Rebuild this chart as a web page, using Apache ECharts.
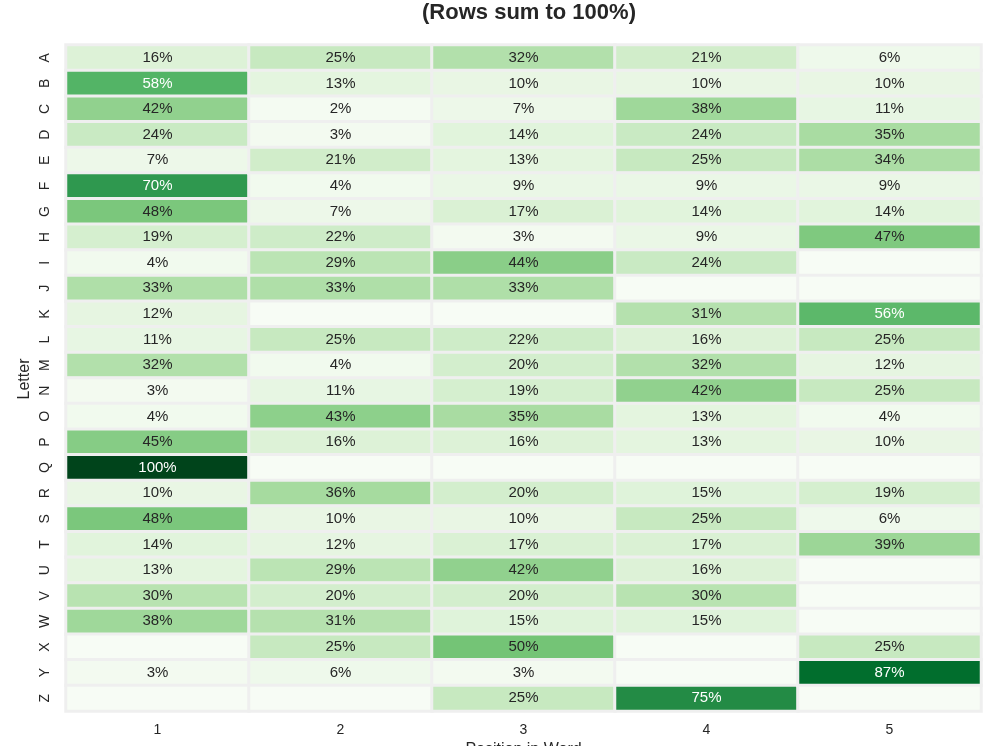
<!DOCTYPE html>
<html>
<head>
<meta charset="utf-8">
<script src="https://cdn.jsdelivr.net/npm/echarts@6/dist/echarts.min.js"></script>
<style>html,body{margin:0;padding:0;background:#fff;}#c{width:1000px;height:746px;}</style>
</head>
<body>
<div id="c"></div>
<script>
var letters = ['A','B','C','D','E','F','G','H','I','J','K','L','M','N','O','P','Q','R','S','T','U','V','W','X','Y','Z'];
var positions = ['1','2','3','4','5'];
var pos1 = [16,58,42,24,7,70,48,19,4,33,12,11,32,3,4,45,100,10,48,14,13,30,38,0,3,0];
var pos2 = [25,13,2,3,21,4,7,22,29,33,0,25,4,11,43,16,0,36,10,12,29,20,31,25,6,0];
var pos3 = [32,10,7,14,13,9,17,3,44,33,0,22,20,19,35,16,0,20,10,17,42,20,15,50,3,25];
var pos4 = [21,10,38,24,25,9,14,9,24,0,31,16,32,42,13,13,0,15,25,17,16,30,15,0,0,75];
var pos5 = [6,10,11,35,34,9,14,47,0,0,56,25,12,25,4,10,0,19,6,39,0,0,0,25,87,0];
var cols = [pos1,pos2,pos3,pos4,pos5];

var data = [];
for (var c = 0; c < cols.length; c++) {
  for (var r = 0; r < letters.length; r++) {
    var v = cols[c][r];
    data.push({
      value: [c, r, v],
      label: { color: v > 52 ? '#ffffff' : '#262626' }
    });
  }
}

var FONT = 'Liberation Sans, Arial, sans-serif';
var chart = echarts.init(document.getElementById('c'));
chart.setOption({
  backgroundColor: '#ffffff',
  animation: false,
  title: {
    text: '(Rows sum to 100%)',
    left: 524, textAlign: 'center', top: -3,
    textStyle: { fontFamily: FONT, fontSize: 22, fontWeight: 'bold', color: '#262626' }
  },
  graphic: [{
    type: 'text', x: 25, y: 379, rotation: Math.PI / 2,
    style: { text: 'Letter', fontFamily: FONT, fontSize: 16, fill: '#262626', align: 'center', verticalAlign: 'middle' }
  }],
  grid: { left: 66, right: 19, top: 45, bottom: 35, outerBoundsMode: 'none', containLabel: false },
  xAxis: {
    type: 'category', data: positions,
    name: 'Position in Word', nameLocation: 'middle', nameGap: 31,
    nameTextStyle: { fontFamily: FONT, fontSize: 16, color: '#262626' },
    axisLine: { show: false }, axisTick: { show: false }, splitLine: { show: false },
    axisLabel: { fontFamily: FONT, fontSize: 14, color: '#262626', margin: 12 }
  },
  yAxis: {
    type: 'category', data: letters, inverse: true,
    axisLine: { show: false }, axisTick: { show: false }, splitLine: { show: false },
    axisLabel: { fontFamily: FONT, fontSize: 14, color: '#262626', margin: 14, rotate: 90 }
  },
  visualMap: {
    show: false, type: 'continuous', min: 0, max: 100, dimension: 2,
    inRange: { color: ['#f7fcf5','#e5f5e0','#c7e9c0','#a1d99b','#74c476','#41ab5d','#238b45','#006d2c','#00441b'] }
  },
  series: [{
    type: 'heatmap',
    data: data,
    itemStyle: { borderColor: '#efefef', borderWidth: 3 },
    label: {
      show: true,
      fontFamily: FONT, fontSize: 15,
      formatter: function (p) { var v = p.value[2]; return v > 0 ? Math.round(v) + '%' : ''; }
    },
    emphasis: { disabled: true }
  }]
});
</script>
</body>
</html>
